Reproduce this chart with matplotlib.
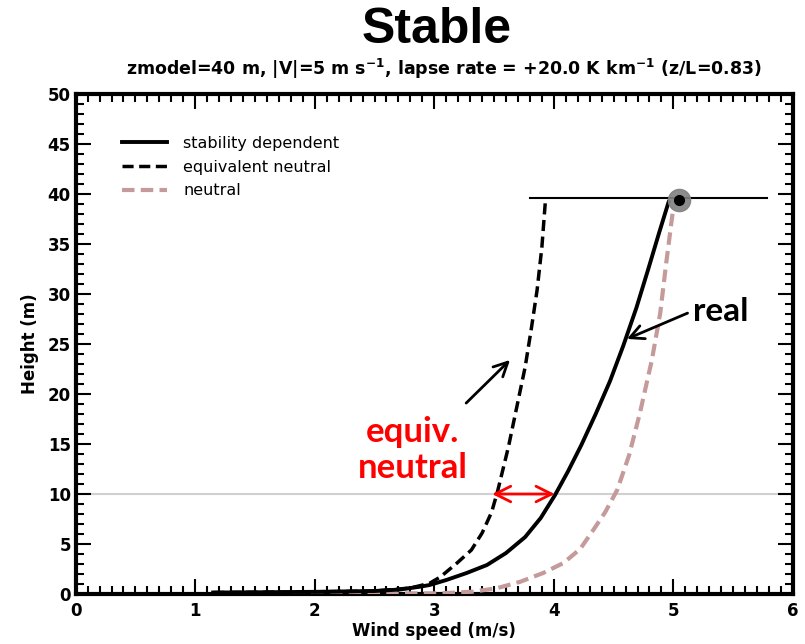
import numpy as np
import matplotlib.pyplot as plt
from matplotlib.ticker import MultipleLocator

# wind profiles (x = wind speed m/s, y = height m)
stab_speed = [1.15, 1.6, 2.0, 2.5, 2.71, 2.88, 2.96, 3.10, 3.27, 3.44, 3.60, 3.76, 3.89, 4.01,
              4.12, 4.23, 4.35, 4.47, 4.58, 4.69, 4.79, 4.88, 4.96]
stab_height = [0.15, 0.18, 0.22, 0.3, 0.45, 0.73, 0.9, 1.4, 2.1, 2.9, 4.1, 5.7, 7.6, 9.9,
               12.3, 14.9, 18.0, 21.3, 24.8, 28.6, 32.5, 36.1, 39.2]

eqn_speed = [1.15, 2.0, 2.5, 2.8, 2.96, 3.05, 3.19, 3.31, 3.40, 3.48, 3.53, 3.62, 3.69, 3.76,
             3.81, 3.86, 3.90, 3.93]
eqn_height = [0.15, 0.22, 0.3, 0.6, 1.07, 1.7, 3.1, 4.4, 6.1, 8.2, 10.3, 14.7, 18.7, 22.7,
              26.4, 30.4, 34.7, 39.4]

neu_speed = [1.5, 2.5, 3.05, 3.32, 3.52, 3.72, 3.91, 4.08, 4.22, 4.33, 4.43, 4.53, 4.63, 4.72,
             4.82, 4.89, 4.94, 5.0]
neu_height = [0.03, 0.05, 0.07, 0.23, 0.57, 1.23, 2.1, 3.1, 4.5, 6.4, 8.2, 10.4, 13.9, 18.1,
              23.4, 28.1, 33.1, 38.7]

zmodel = 39.6          # model level height
zmodel_span = [3.8, 5.78]
model_point = (5.05, 39.4)
ref_height = 10.0
gap_speeds = [3.46, 4.03]  # equiv. neutral gap at 10 m

plt.rcParams['font.family'] = ['DejaVu Sans']
plt.rcParams['font.weight'] = 'bold'

fig = plt.figure(figsize=(8.05, 6.44), dpi=100)
ax = fig.add_axes([0.094, 0.0776, 0.891, 0.7764])

ax.axhline(ref_height, color='#d0d0d0', lw=1.5, zorder=1)

ax.plot(stab_speed, stab_height, color='black', lw=2.8, label='stability dependent', zorder=4)
ax.plot(eqn_speed, eqn_height, color='black', lw=2.5, dashes=(3.2, 1.6), label='equivalent neutral', zorder=4)
ax.plot(neu_speed, neu_height, color='#c49a9a', lw=3, dashes=(3.0, 1.5), label='neutral', zorder=3)

ax.plot(zmodel_span, [zmodel, zmodel], color='black', lw=1.5, zorder=5)
ax.plot(*model_point, 'o', ms=16, color='#808080', alpha=0.9, zorder=6)
ax.plot(*model_point, 'o', ms=7, color='black', zorder=7)

# annotations
ax.annotate('', xy=(gap_speeds[0], ref_height), xytext=(gap_speeds[1], ref_height),
            arrowprops=dict(arrowstyle='<->', color='red', lw=2, mutation_scale=28), zorder=8)
ax.annotate('', xy=(3.65, 23.6), xytext=(3.25, 18.9),
            arrowprops=dict(arrowstyle='->', color='black', lw=2, mutation_scale=25))
ax.annotate('', xy=(4.59, 25.4), xytext=(5.14, 28.2),
            arrowprops=dict(arrowstyle='->', color='black', lw=2, mutation_scale=25))
ax.text(5.16, 28.3, 'real', family=['Lato', 'DejaVu Sans'], fontsize=24, fontweight='bold',
        ha='left', va='center')
ax.text(2.82, 14.4, 'equiv.\nneutral', family=['Lato', 'DejaVu Sans'], fontsize=25,
        fontweight='bold', color='red', ha='center', va='center', linespacing=1.15)

ax.set_xlim(0, 6)
ax.set_ylim(0, 50)
ax.xaxis.set_major_locator(MultipleLocator(1))
ax.xaxis.set_minor_locator(MultipleLocator(0.1))
ax.yaxis.set_major_locator(MultipleLocator(5))
ax.yaxis.set_minor_locator(MultipleLocator(1))
ax.tick_params(which='both', direction='in', top=True, right=True, width=1.5, labelsize=12)
ax.tick_params(which='major', length=11)
ax.tick_params(which='minor', length=6)
ax.tick_params(axis='x', pad=6)
for s in ax.spines.values():
    s.set_linewidth(3)

ax.set_xlabel('Wind speed (m/s)', fontsize=12, fontweight='bold', labelpad=1)
ax.set_ylabel('Height (m)', fontsize=12, fontweight='bold', labelpad=6)

ax.legend(loc='upper left', bbox_to_anchor=(0.045, 0.945), frameon=False,
          handlelength=2.8, handletextpad=1.0, labelspacing=0.55,
          prop={'weight': 'normal', 'size': 11.5})

fig.text(0.542, 0.953, 'Stable', ha='center', va='center', fontsize=36, fontweight='bold',
         family=['Liberation Sans', 'DejaVu Sans'])
fig.text(0.551, 0.893, r'zmodel=40 m, |V|=5 m s$^{\mathbf{-1}}$, lapse rate = +20.0 K km$^{\mathbf{-1}}$ (z/L=0.83)',
         ha='center', va='center', fontsize=12.5, fontweight='bold')

fig.savefig('out.png', dpi=100)
